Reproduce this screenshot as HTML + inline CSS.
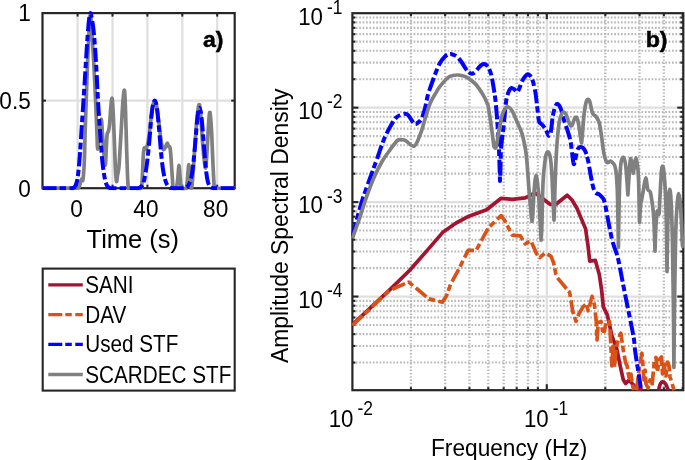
<!DOCTYPE html>
<html><head><meta charset="utf-8"><title>Figure</title>
<style>html,body{margin:0;padding:0;background:#fff}body{width:685px;height:460px;overflow:hidden;font-family:"Liberation Sans",sans-serif}</style></head>
<body>
<svg width="685" height="460" viewBox="0 0 685 460" style="display:block;font-family:'Liberation Sans',sans-serif;will-change:transform;opacity:0.9999">
<rect x="0" y="0" width="685" height="460" fill="#fff"/>
<defs><clipPath id="ca"><rect x="40.5" y="11.1" width="196.2" height="179.1"/></clipPath><clipPath id="cb"><rect x="351.4" y="12.2" width="332.9" height="379.0"/></clipPath></defs>
<line x1="77.60" y1="13.1" x2="77.60" y2="188.2" stroke="#dfdfdf" stroke-width="2.2"/>
<line x1="112.50" y1="13.1" x2="112.50" y2="188.2" stroke="#dfdfdf" stroke-width="2.2"/>
<line x1="147.40" y1="13.1" x2="147.40" y2="188.2" stroke="#dfdfdf" stroke-width="2.2"/>
<line x1="182.30" y1="13.1" x2="182.30" y2="188.2" stroke="#dfdfdf" stroke-width="2.2"/>
<line x1="217.20" y1="13.1" x2="217.20" y2="188.2" stroke="#dfdfdf" stroke-width="2.2"/>
<line x1="42.5" y1="100.65" x2="234.7" y2="100.65" stroke="#dfdfdf" stroke-width="2.2"/>
<rect x="42.5" y="13.1" width="192.20" height="175.10" fill="none" stroke="#262626" stroke-width="2.2"/>
<line x1="77.60" y1="188.2" x2="77.60" y2="184.7" stroke="#262626" stroke-width="2"/>
<line x1="77.60" y1="13.1" x2="77.60" y2="16.6" stroke="#262626" stroke-width="2"/>
<line x1="112.50" y1="188.2" x2="112.50" y2="184.7" stroke="#262626" stroke-width="2"/>
<line x1="112.50" y1="13.1" x2="112.50" y2="16.6" stroke="#262626" stroke-width="2"/>
<line x1="147.40" y1="188.2" x2="147.40" y2="184.7" stroke="#262626" stroke-width="2"/>
<line x1="147.40" y1="13.1" x2="147.40" y2="16.6" stroke="#262626" stroke-width="2"/>
<line x1="182.30" y1="188.2" x2="182.30" y2="184.7" stroke="#262626" stroke-width="2"/>
<line x1="182.30" y1="13.1" x2="182.30" y2="16.6" stroke="#262626" stroke-width="2"/>
<line x1="217.20" y1="188.2" x2="217.20" y2="184.7" stroke="#262626" stroke-width="2"/>
<line x1="217.20" y1="13.1" x2="217.20" y2="16.6" stroke="#262626" stroke-width="2"/>
<line x1="42.5" y1="100.65" x2="46.0" y2="100.65" stroke="#262626" stroke-width="2"/>
<line x1="234.7" y1="100.65" x2="231.2" y2="100.65" stroke="#262626" stroke-width="2"/>
<g clip-path="url(#ca)" fill="none" stroke-linejoin="round">
<path d="M42.50,188.20 C47.08,188.20 64.17,188.20 70.00,188.20 C75.83,188.20 75.92,188.57 77.50,188.20 C79.08,187.83 78.88,187.40 79.50,186.00 C80.12,184.60 80.75,181.03 81.20,179.80 C81.65,178.57 81.90,178.63 82.20,178.60 C82.50,178.57 82.65,182.37 83.00,179.60 C83.35,176.83 83.93,170.27 84.30,162.00 C84.67,153.73 84.85,141.17 85.20,130.00 C85.55,118.83 85.98,106.67 86.40,95.00 C86.82,83.33 87.25,70.83 87.70,60.00 C88.15,49.17 88.65,37.63 89.10,30.00 C89.55,22.37 89.95,14.20 90.40,14.20 C90.85,14.20 91.25,22.03 91.80,30.00 C92.35,37.97 93.13,51.67 93.70,62.00 C94.27,72.33 94.78,83.17 95.20,92.00 C95.62,100.83 95.90,107.83 96.20,115.00 C96.50,122.17 96.75,129.30 97.00,135.00 C97.25,140.70 97.28,149.20 97.70,149.20 C98.12,149.20 98.90,140.02 99.50,135.00 C100.10,129.98 100.80,119.10 101.30,119.10 C101.80,119.10 102.05,129.02 102.50,135.00 C102.95,140.98 103.52,150.00 104.00,155.00 C104.48,160.00 105.03,165.83 105.40,165.00 C105.77,164.17 105.92,155.08 106.20,150.00 C106.48,144.92 106.75,137.58 107.10,134.50 C107.45,131.42 107.90,133.08 108.30,131.50 C108.70,129.92 109.05,129.42 109.50,125.00 C109.95,120.58 110.55,109.40 111.00,105.00 C111.45,100.60 111.82,96.93 112.20,98.60 C112.58,100.27 112.92,107.27 113.30,115.00 C113.68,122.73 114.13,135.83 114.50,145.00 C114.87,154.17 115.17,163.92 115.50,170.00 C115.83,176.08 116.15,180.67 116.50,181.50 C116.85,182.33 117.20,177.35 117.60,175.00 C118.00,172.65 118.50,171.57 118.90,167.40 C119.30,163.23 119.57,157.07 120.00,150.00 C120.43,142.93 121.00,133.33 121.50,125.00 C122.00,116.67 122.50,105.77 123.00,100.00 C123.50,94.23 124.08,88.73 124.50,90.40 C124.92,92.07 125.17,100.90 125.50,110.00 C125.83,119.10 126.17,134.17 126.50,145.00 C126.83,155.83 127.20,167.93 127.50,175.00 C127.80,182.07 128.05,185.20 128.30,187.40 C128.55,189.60 127.88,188.07 129.00,188.20 C130.12,188.33 133.00,188.20 135.00,188.20 C137.00,188.20 139.78,190.07 141.00,188.20 C142.22,186.33 141.92,182.37 142.30,177.00 C142.68,171.63 142.97,160.85 143.30,156.00 C143.63,151.15 143.92,149.10 144.30,147.90 C144.68,146.70 145.15,149.03 145.60,148.80 C146.05,148.57 146.43,148.63 147.00,146.50 C147.57,144.37 148.33,140.58 149.00,136.00 C149.67,131.42 150.33,124.17 151.00,119.00 C151.67,113.83 152.38,108.03 153.00,105.00 C153.62,101.97 154.12,100.80 154.70,100.80 C155.28,100.80 155.87,101.97 156.50,105.00 C157.13,108.03 157.83,113.83 158.50,119.00 C159.17,124.17 159.83,131.17 160.50,136.00 C161.17,140.83 161.83,145.83 162.50,148.00 C163.17,150.17 163.73,149.78 164.50,149.00 C165.27,148.22 166.42,143.72 167.10,143.30 C167.78,142.88 168.08,145.62 168.60,146.50 C169.12,147.38 169.72,145.52 170.20,148.60 C170.68,151.68 171.10,159.43 171.50,165.00 C171.90,170.57 172.28,178.13 172.60,182.00 C172.92,185.87 172.78,187.17 173.40,188.20 C174.02,189.23 175.57,189.90 176.30,188.20 C177.03,186.50 177.35,181.82 177.80,178.00 C178.25,174.18 178.60,165.30 179.00,165.30 C179.40,165.30 179.78,174.18 180.20,178.00 C180.62,181.82 180.52,186.50 181.50,188.20 C182.48,189.90 185.10,189.90 186.10,188.20 C187.10,186.50 187.05,181.93 187.50,178.00 C187.95,174.07 188.38,164.60 188.80,164.60 C189.22,164.60 189.63,174.27 190.00,178.00 C190.37,181.73 190.67,185.67 191.00,187.00 C191.33,188.33 191.60,189.17 192.00,186.00 C192.40,182.83 192.90,174.83 193.40,168.00 C193.90,161.17 194.40,153.33 195.00,145.00 C195.60,136.67 196.33,124.72 197.00,118.00 C197.67,111.28 198.42,105.70 199.00,104.70 C199.58,103.70 200.00,106.95 200.50,112.00 C201.00,117.05 201.45,127.67 202.00,135.00 C202.55,142.33 203.20,150.50 203.80,156.00 C204.40,161.50 205.07,168.67 205.60,168.00 C206.13,167.33 206.52,159.17 207.00,152.00 C207.48,144.83 208.02,131.62 208.50,125.00 C208.98,118.38 209.40,111.47 209.90,112.30 C210.40,113.13 210.98,121.22 211.50,130.00 C212.02,138.78 212.55,155.57 213.00,165.00 C213.45,174.43 213.87,182.73 214.20,186.60 C214.53,190.47 213.20,187.93 215.00,188.20 C216.80,188.47 221.72,188.20 225.00,188.20 C228.28,188.20 233.08,188.20 234.70,188.20" stroke="#808080" stroke-width="3.7"/>
<path d="M42.50,188.20 C45.42,188.20 55.42,188.20 60.00,188.20 C64.58,188.20 67.83,188.23 70.00,188.20 C72.17,188.17 72.17,188.29 73.00,188.00 C73.83,187.71 74.33,187.58 75.00,186.45 C75.67,185.31 76.42,183.82 77.00,181.20 C77.58,178.57 78.00,175.36 78.50,170.69 C79.00,166.02 79.50,159.89 80.00,153.18 C80.50,146.47 81.00,138.00 81.50,130.42 C82.00,122.83 82.50,115.24 83.00,107.65 C83.50,100.07 84.00,92.77 84.50,84.89 C85.00,77.01 85.50,68.26 86.00,60.38 C86.50,52.50 87.00,44.33 87.50,37.61 C88.00,30.90 88.53,24.19 89.00,20.10 C89.47,16.02 89.87,13.54 90.30,13.10 C90.73,12.66 91.10,15.00 91.60,17.48 C92.10,19.96 92.80,23.90 93.30,27.98 C93.80,32.07 94.17,36.59 94.60,41.99 C95.03,47.39 95.48,53.52 95.90,60.38 C96.32,67.24 96.70,75.55 97.10,83.14 C97.50,90.73 97.90,99.19 98.30,105.90 C98.70,112.62 99.10,117.78 99.50,123.41 C99.90,129.05 100.22,133.28 100.70,139.70 C101.18,146.12 101.72,155.46 102.40,161.94 C103.08,168.41 104.02,174.60 104.80,178.57 C105.58,182.54 106.23,184.16 107.10,185.75 C107.97,187.34 108.68,187.69 110.00,188.10 C111.32,188.51 111.67,188.18 115.00,188.20 C118.33,188.22 126.33,188.20 130.00,188.20 C133.67,188.20 135.33,188.30 137.00,188.20 C138.67,188.10 139.08,188.13 140.00,187.60 C140.92,187.07 141.78,186.35 142.50,185.00 C143.22,183.65 143.72,182.00 144.30,179.50 C144.88,177.00 145.48,173.25 146.00,170.00 C146.52,166.75 146.93,163.83 147.40,160.00 C147.87,156.17 148.33,151.83 148.80,147.00 C149.27,142.17 149.78,136.00 150.20,131.00 C150.62,126.00 150.92,120.92 151.30,117.00 C151.68,113.08 152.12,109.92 152.50,107.50 C152.88,105.08 153.23,103.65 153.60,102.50 C153.97,101.35 154.32,100.55 154.70,100.60 C155.08,100.65 155.48,101.15 155.90,102.80 C156.32,104.45 156.75,106.97 157.20,110.50 C157.65,114.03 158.15,119.25 158.60,124.00 C159.05,128.75 159.50,134.33 159.90,139.00 C160.30,143.67 160.62,147.92 161.00,152.00 C161.38,156.08 161.80,160.17 162.20,163.50 C162.60,166.83 162.95,169.45 163.40,172.00 C163.85,174.55 164.38,176.88 164.90,178.80 C165.42,180.72 165.90,182.22 166.50,183.50 C167.10,184.78 167.75,185.75 168.50,186.50 C169.25,187.25 169.92,187.72 171.00,188.00 C172.08,188.28 173.17,188.17 175.00,188.20 C176.83,188.23 180.33,188.27 182.00,188.20 C183.67,188.13 184.07,188.12 185.00,187.80 C185.93,187.48 186.88,187.02 187.60,186.30 C188.32,185.58 188.77,184.63 189.30,183.50 C189.83,182.37 190.30,181.42 190.80,179.50 C191.30,177.58 191.83,175.08 192.30,172.00 C192.77,168.92 193.18,165.00 193.60,161.00 C194.02,157.00 194.40,152.50 194.80,148.00 C195.20,143.50 195.60,138.67 196.00,134.00 C196.40,129.33 196.82,123.75 197.20,120.00 C197.58,116.25 197.92,113.52 198.30,111.50 C198.68,109.48 199.10,107.90 199.50,107.90 C199.90,107.90 200.32,109.48 200.70,111.50 C201.08,113.52 201.42,116.25 201.80,120.00 C202.18,123.75 202.62,129.33 203.00,134.00 C203.38,138.67 203.73,143.50 204.10,148.00 C204.47,152.50 204.80,156.67 205.20,161.00 C205.60,165.33 206.07,170.58 206.50,174.00 C206.93,177.42 207.30,179.53 207.80,181.50 C208.30,183.47 208.80,184.75 209.50,185.80 C210.20,186.85 210.92,187.40 212.00,187.80 C213.08,188.20 213.83,188.13 216.00,188.20 C218.17,188.27 221.88,188.20 225.00,188.20 C228.12,188.20 233.08,188.20 234.70,188.20" stroke="#0000ff" stroke-width="4.0" stroke-dasharray="14 3 6.5 3.5"/>
</g>
<text transform="translate(30.8,21.3) scale(0.92,1)" font-size="24.6" text-anchor="end">1</text>
<text transform="translate(30.8,109.0) scale(0.92,1)" font-size="24.6" text-anchor="end">0.5</text>
<text transform="translate(30.8,196.6) scale(0.92,1)" font-size="24.6" text-anchor="end">0</text>
<text transform="translate(76.6,217.4) scale(0.92,1)" font-size="24.6" text-anchor="middle">0</text>
<text transform="translate(145.9,217.4) scale(0.92,1)" font-size="24.6" text-anchor="middle">40</text>
<text transform="translate(215.7,217.4) scale(0.92,1)" font-size="24.6" text-anchor="middle">80</text>
<text x="86.6" y="248.2" font-size="25.4" textLength="92.3" lengthAdjust="spacingAndGlyphs">Time (s)</text>
<text transform="translate(202.9,47.0) scale(1.05,1)" font-size="22" text-anchor="start" font-weight="bold" stroke="#000" stroke-width="0.45">a)</text>
<rect x="42.7" y="268.6" width="192" height="122" fill="#fff" stroke="#262626" stroke-width="2.1"/>
<line x1="48.3" y1="284.9" x2="82.8" y2="284.9" stroke="#a2142f" stroke-width="3.3"/>
<text transform="translate(85.2,292.9) scale(0.893,1)" font-size="23.2" text-anchor="start">SANI</text>
<line x1="48.3" y1="314.6" x2="82.8" y2="314.6" stroke="#d95319" stroke-width="3.3" stroke-dasharray="14 3 6.5 3.5"/>
<text transform="translate(85.2,322.6) scale(0.893,1)" font-size="23.2" text-anchor="start">DAV</text>
<line x1="48.3" y1="344.4" x2="82.8" y2="344.4" stroke="#0000ff" stroke-width="3.3" stroke-dasharray="14 3 6.5 3.5"/>
<text transform="translate(85.2,352.4) scale(0.893,1)" font-size="23.2" text-anchor="start">Used STF</text>
<line x1="48.3" y1="374.5" x2="82.8" y2="374.5" stroke="#808080" stroke-width="3.3"/>
<text transform="translate(85.2,382.5) scale(0.893,1)" font-size="23.2" text-anchor="start">SCARDEC STF</text>
<g stroke="#b9b9b9" stroke-width="2.3" stroke-dasharray="1.4 1.9"><line x1="410.92" y1="13.2" x2="410.92" y2="390.2"/><line x1="445.15" y1="13.2" x2="445.15" y2="390.2"/><line x1="469.44" y1="13.2" x2="469.44" y2="390.2"/><line x1="488.28" y1="13.2" x2="488.28" y2="390.2"/><line x1="503.67" y1="13.2" x2="503.67" y2="390.2"/><line x1="516.69" y1="13.2" x2="516.69" y2="390.2"/><line x1="527.96" y1="13.2" x2="527.96" y2="390.2"/><line x1="537.90" y1="13.2" x2="537.90" y2="390.2"/><line x1="605.32" y1="13.2" x2="605.32" y2="390.2"/><line x1="639.55" y1="13.2" x2="639.55" y2="390.2"/><line x1="663.84" y1="13.2" x2="663.84" y2="390.2"/><line x1="682.68" y1="13.2" x2="682.68" y2="390.2"/></g>
<g stroke="#b9b9b9" stroke-width="2.1" stroke-dasharray="1.7 1.7"><line x1="352.4" y1="362.57" x2="683.3" y2="362.57"/><line x1="352.4" y1="345.94" x2="683.3" y2="345.94"/><line x1="352.4" y1="334.14" x2="683.3" y2="334.14"/><line x1="352.4" y1="324.98" x2="683.3" y2="324.98"/><line x1="352.4" y1="317.50" x2="683.3" y2="317.50"/><line x1="352.4" y1="311.18" x2="683.3" y2="311.18"/><line x1="352.4" y1="305.70" x2="683.3" y2="305.70"/><line x1="352.4" y1="300.87" x2="683.3" y2="300.87"/><line x1="352.4" y1="268.12" x2="683.3" y2="268.12"/><line x1="352.4" y1="251.49" x2="683.3" y2="251.49"/><line x1="352.4" y1="239.69" x2="683.3" y2="239.69"/><line x1="352.4" y1="230.53" x2="683.3" y2="230.53"/><line x1="352.4" y1="223.05" x2="683.3" y2="223.05"/><line x1="352.4" y1="216.73" x2="683.3" y2="216.73"/><line x1="352.4" y1="211.25" x2="683.3" y2="211.25"/><line x1="352.4" y1="206.42" x2="683.3" y2="206.42"/><line x1="352.4" y1="173.67" x2="683.3" y2="173.67"/><line x1="352.4" y1="157.04" x2="683.3" y2="157.04"/><line x1="352.4" y1="145.24" x2="683.3" y2="145.24"/><line x1="352.4" y1="136.08" x2="683.3" y2="136.08"/><line x1="352.4" y1="128.60" x2="683.3" y2="128.60"/><line x1="352.4" y1="122.28" x2="683.3" y2="122.28"/><line x1="352.4" y1="116.80" x2="683.3" y2="116.80"/><line x1="352.4" y1="111.97" x2="683.3" y2="111.97"/><line x1="352.4" y1="79.22" x2="683.3" y2="79.22"/><line x1="352.4" y1="62.59" x2="683.3" y2="62.59"/><line x1="352.4" y1="50.79" x2="683.3" y2="50.79"/><line x1="352.4" y1="41.63" x2="683.3" y2="41.63"/><line x1="352.4" y1="34.15" x2="683.3" y2="34.15"/><line x1="352.4" y1="27.83" x2="683.3" y2="27.83"/><line x1="352.4" y1="22.35" x2="683.3" y2="22.35"/><line x1="352.4" y1="17.52" x2="683.3" y2="17.52"/></g>
<line x1="352.4" y1="107.65" x2="683.3" y2="107.65" stroke="#dfdfdf" stroke-width="2.2"/>
<line x1="352.4" y1="202.10" x2="683.3" y2="202.10" stroke="#dfdfdf" stroke-width="2.2"/>
<line x1="352.4" y1="296.55" x2="683.3" y2="296.55" stroke="#dfdfdf" stroke-width="2.2"/>
<line x1="546.80" y1="13.2" x2="546.80" y2="390.2" stroke="#dfdfdf" stroke-width="2.2"/>
<rect x="352.4" y="13.2" width="330.90" height="377.00" fill="none" stroke="#262626" stroke-width="2.2"/>
<g stroke="#262626" stroke-width="2.1"><line x1="410.92" y1="390.2" x2="410.92" y2="387.2"/><line x1="410.92" y1="13.2" x2="410.92" y2="16.2"/><line x1="445.15" y1="390.2" x2="445.15" y2="387.2"/><line x1="445.15" y1="13.2" x2="445.15" y2="16.2"/><line x1="469.44" y1="390.2" x2="469.44" y2="387.2"/><line x1="469.44" y1="13.2" x2="469.44" y2="16.2"/><line x1="488.28" y1="390.2" x2="488.28" y2="387.2"/><line x1="488.28" y1="13.2" x2="488.28" y2="16.2"/><line x1="503.67" y1="390.2" x2="503.67" y2="387.2"/><line x1="503.67" y1="13.2" x2="503.67" y2="16.2"/><line x1="516.69" y1="390.2" x2="516.69" y2="387.2"/><line x1="516.69" y1="13.2" x2="516.69" y2="16.2"/><line x1="527.96" y1="390.2" x2="527.96" y2="387.2"/><line x1="527.96" y1="13.2" x2="527.96" y2="16.2"/><line x1="537.90" y1="390.2" x2="537.90" y2="387.2"/><line x1="537.90" y1="13.2" x2="537.90" y2="16.2"/><line x1="546.80" y1="390.2" x2="546.80" y2="384.2"/><line x1="546.80" y1="13.2" x2="546.80" y2="19.2"/><line x1="605.32" y1="390.2" x2="605.32" y2="387.2"/><line x1="605.32" y1="13.2" x2="605.32" y2="16.2"/><line x1="639.55" y1="390.2" x2="639.55" y2="387.2"/><line x1="639.55" y1="13.2" x2="639.55" y2="16.2"/><line x1="663.84" y1="390.2" x2="663.84" y2="387.2"/><line x1="663.84" y1="13.2" x2="663.84" y2="16.2"/><line x1="682.68" y1="390.2" x2="682.68" y2="387.2"/><line x1="682.68" y1="13.2" x2="682.68" y2="16.2"/><line x1="352.4" y1="362.57" x2="355.4" y2="362.57"/><line x1="683.3" y1="362.57" x2="680.3" y2="362.57"/><line x1="352.4" y1="345.94" x2="355.4" y2="345.94"/><line x1="683.3" y1="345.94" x2="680.3" y2="345.94"/><line x1="352.4" y1="334.14" x2="355.4" y2="334.14"/><line x1="683.3" y1="334.14" x2="680.3" y2="334.14"/><line x1="352.4" y1="324.98" x2="355.4" y2="324.98"/><line x1="683.3" y1="324.98" x2="680.3" y2="324.98"/><line x1="352.4" y1="317.50" x2="355.4" y2="317.50"/><line x1="683.3" y1="317.50" x2="680.3" y2="317.50"/><line x1="352.4" y1="311.18" x2="355.4" y2="311.18"/><line x1="683.3" y1="311.18" x2="680.3" y2="311.18"/><line x1="352.4" y1="305.70" x2="355.4" y2="305.70"/><line x1="683.3" y1="305.70" x2="680.3" y2="305.70"/><line x1="352.4" y1="300.87" x2="355.4" y2="300.87"/><line x1="683.3" y1="300.87" x2="680.3" y2="300.87"/><line x1="352.4" y1="296.55" x2="358.4" y2="296.55"/><line x1="683.3" y1="296.55" x2="677.3" y2="296.55"/><line x1="352.4" y1="268.12" x2="355.4" y2="268.12"/><line x1="683.3" y1="268.12" x2="680.3" y2="268.12"/><line x1="352.4" y1="251.49" x2="355.4" y2="251.49"/><line x1="683.3" y1="251.49" x2="680.3" y2="251.49"/><line x1="352.4" y1="239.69" x2="355.4" y2="239.69"/><line x1="683.3" y1="239.69" x2="680.3" y2="239.69"/><line x1="352.4" y1="230.53" x2="355.4" y2="230.53"/><line x1="683.3" y1="230.53" x2="680.3" y2="230.53"/><line x1="352.4" y1="223.05" x2="355.4" y2="223.05"/><line x1="683.3" y1="223.05" x2="680.3" y2="223.05"/><line x1="352.4" y1="216.73" x2="355.4" y2="216.73"/><line x1="683.3" y1="216.73" x2="680.3" y2="216.73"/><line x1="352.4" y1="211.25" x2="355.4" y2="211.25"/><line x1="683.3" y1="211.25" x2="680.3" y2="211.25"/><line x1="352.4" y1="206.42" x2="355.4" y2="206.42"/><line x1="683.3" y1="206.42" x2="680.3" y2="206.42"/><line x1="352.4" y1="202.10" x2="358.4" y2="202.10"/><line x1="683.3" y1="202.10" x2="677.3" y2="202.10"/><line x1="352.4" y1="173.67" x2="355.4" y2="173.67"/><line x1="683.3" y1="173.67" x2="680.3" y2="173.67"/><line x1="352.4" y1="157.04" x2="355.4" y2="157.04"/><line x1="683.3" y1="157.04" x2="680.3" y2="157.04"/><line x1="352.4" y1="145.24" x2="355.4" y2="145.24"/><line x1="683.3" y1="145.24" x2="680.3" y2="145.24"/><line x1="352.4" y1="136.08" x2="355.4" y2="136.08"/><line x1="683.3" y1="136.08" x2="680.3" y2="136.08"/><line x1="352.4" y1="128.60" x2="355.4" y2="128.60"/><line x1="683.3" y1="128.60" x2="680.3" y2="128.60"/><line x1="352.4" y1="122.28" x2="355.4" y2="122.28"/><line x1="683.3" y1="122.28" x2="680.3" y2="122.28"/><line x1="352.4" y1="116.80" x2="355.4" y2="116.80"/><line x1="683.3" y1="116.80" x2="680.3" y2="116.80"/><line x1="352.4" y1="111.97" x2="355.4" y2="111.97"/><line x1="683.3" y1="111.97" x2="680.3" y2="111.97"/><line x1="352.4" y1="107.65" x2="358.4" y2="107.65"/><line x1="683.3" y1="107.65" x2="677.3" y2="107.65"/><line x1="352.4" y1="79.22" x2="355.4" y2="79.22"/><line x1="683.3" y1="79.22" x2="680.3" y2="79.22"/><line x1="352.4" y1="62.59" x2="355.4" y2="62.59"/><line x1="683.3" y1="62.59" x2="680.3" y2="62.59"/><line x1="352.4" y1="50.79" x2="355.4" y2="50.79"/><line x1="683.3" y1="50.79" x2="680.3" y2="50.79"/><line x1="352.4" y1="41.63" x2="355.4" y2="41.63"/><line x1="683.3" y1="41.63" x2="680.3" y2="41.63"/><line x1="352.4" y1="34.15" x2="355.4" y2="34.15"/><line x1="683.3" y1="34.15" x2="680.3" y2="34.15"/><line x1="352.4" y1="27.83" x2="355.4" y2="27.83"/><line x1="683.3" y1="27.83" x2="680.3" y2="27.83"/><line x1="352.4" y1="22.35" x2="355.4" y2="22.35"/><line x1="683.3" y1="22.35" x2="680.3" y2="22.35"/><line x1="352.4" y1="17.52" x2="355.4" y2="17.52"/><line x1="683.3" y1="17.52" x2="680.3" y2="17.52"/></g>
<g clip-path="url(#cb)" fill="none" stroke-linejoin="round" stroke-width="3.7">
<path d="M352.40,324.70 L388.60,290.90 L409.50,270.50 L427.20,250.40 L443.20,231.90 L456.10,223.00 L468.90,216.20 L486.60,209.80 L501.10,198.30 L512.30,199.40 L525.20,197.80 L534.90,193.00 L539.70,196.20 L550.00,204.20 L555.90,204.30 L567.20,195.30 L572.00,200.00 L576.80,208.00 L585.60,228.90 L588.10,246.60 L589.70,261.10 L595.30,260.30 L596.90,265.90 L599.30,274.60 L601.70,290.70 L603.30,306.80 L607.30,314.80 L609.80,326.10 L612.00,336.10 L616.80,348.90 L620.00,365.00 L623.20,379.50 L625.60,383.50 L628.90,380.30 L632.90,384.30 L636.90,388.30 L642.50,390.20" stroke="#a2142f"/>
<path d="M658.60,390.20 C658.87,389.22 659.53,385.68 660.20,384.30 C660.87,382.92 661.67,381.90 662.60,381.90 C663.53,381.90 664.87,382.92 665.80,384.30 C666.73,385.68 667.80,389.22 668.20,390.20" stroke="#a2142f"/>
<path d="M352.40,325.50 L388.60,291.20 L395.00,288.00 L408.70,282.10 L417.50,289.30 L428.80,298.90 L442.40,302.20 L446.50,295.70 L450.50,284.50 L459.30,268.10 L468.10,250.40 L476.20,250.40 L488.20,227.90 L501.10,215.60 L504.30,219.80 L512.30,235.10 L520.40,235.90 L525.20,243.90 L530.80,240.70 L536.50,253.60 L539.70,257.60 L545.30,252.80 L551.10,256.30 L553.50,262.70 L555.90,274.00 L557.50,277.90 L565.50,287.50 L569.60,292.30 L572.80,311.60 L576.00,321.30 L579.20,313.20 L583.20,306.80 L586.40,303.60 L588.10,310.80 L592.10,296.40 L594.50,305.20 L596.30,322.00 L597.00,340.00 L598.30,322.50 L601.00,321.50 L602.60,331.00 L604.40,331.50 L606.00,321.80 L609.60,321.50 L610.80,344.00 L611.80,366.00 L613.20,346.00 L614.60,367.00 L616.00,349.00 L618.40,339.30 L620.80,333.20 L622.40,344.10 L623.60,352.20 L625.60,362.60 L627.20,366.00 L628.00,372.00 L629.70,381.00 L631.00,374.00 L632.30,384.00 L633.70,390.20 M636.50,390.20 L639.30,368.00 L641.90,353.20 L643.00,366.00 L644.00,380.00 L645.00,370.00 L646.00,384.00 L648.00,388.00 L650.00,380.00 L652.00,386.00 L653.50,370.00 L654.50,360.00 L656.00,357.50 L657.50,372.00 L659.00,360.00 L661.50,357.00 L662.50,374.00 L664.00,364.00 L666.00,376.00 L667.50,362.00 L669.00,366.00 L670.00,377.00 L671.00,380.00 L672.50,385.00 L674.00,390.20" stroke="#d95319" stroke-dasharray="14 3 6.5 3.5"/>
<path d="M352.40,236.00 C352.80,234.50 354.00,230.00 354.80,227.00 C355.60,224.00 355.85,222.80 357.20,218.00 C358.55,213.20 360.62,205.25 362.90,198.20 C365.18,191.15 368.50,182.40 370.90,175.70 C373.30,169.00 375.15,164.00 377.30,158.00 C379.45,152.00 381.65,144.90 383.80,139.70 C385.95,134.50 388.07,130.55 390.20,126.80 C392.33,123.05 394.32,119.35 396.60,117.20 C398.88,115.05 402.02,114.28 403.90,113.90 C405.78,113.52 406.17,113.28 407.90,114.90 C409.63,116.52 412.62,122.33 414.30,123.60 C415.98,124.87 416.80,123.30 418.00,122.50 C419.20,121.70 420.37,121.03 421.50,118.80 C422.63,116.57 423.72,113.13 424.80,109.10 C425.88,105.07 426.93,98.62 428.00,94.60 C429.07,90.58 429.87,88.77 431.20,85.00 C432.53,81.23 434.53,75.67 436.00,72.00 C437.47,68.33 438.50,65.58 440.00,63.00 C441.50,60.42 443.37,58.00 445.00,56.50 C446.63,55.00 448.30,54.25 449.80,54.00 C451.30,53.75 452.68,54.45 454.00,55.00 C455.32,55.55 456.45,56.13 457.70,57.30 C458.95,58.47 460.17,60.12 461.50,62.00 C462.83,63.88 464.45,66.85 465.70,68.60 C466.95,70.35 467.92,71.65 469.00,72.50 C470.08,73.35 471.12,73.87 472.20,73.70 C473.28,73.53 474.43,72.48 475.50,71.50 C476.57,70.52 477.60,68.88 478.60,67.80 C479.60,66.72 480.57,65.62 481.50,65.00 C482.43,64.38 483.32,64.02 484.20,64.10 C485.08,64.18 486.00,64.75 486.80,65.50 C487.60,66.25 488.30,67.18 489.00,68.60 C489.70,70.02 490.45,72.13 491.00,74.00 C491.55,75.87 491.80,77.13 492.30,79.80 C492.80,82.47 493.47,86.52 494.00,90.00 C494.53,93.48 494.98,95.85 495.50,100.70 C496.02,105.55 496.57,112.02 497.10,119.10 C497.63,126.18 498.30,135.55 498.70,143.20 C499.10,150.85 499.28,158.70 499.50,165.00 C499.72,171.30 499.92,178.33 500.00,181.00 L500.00,181.00 C500.10,178.33 500.42,170.50 500.60,165.00 C500.78,159.50 500.62,154.30 501.10,148.00 C501.58,141.70 502.70,134.70 503.50,127.20 C504.30,119.70 505.23,108.37 505.90,103.00 C506.57,97.63 506.90,97.17 507.50,95.00 C508.10,92.83 508.83,91.18 509.50,90.00 C510.17,88.82 510.67,87.98 511.50,87.90 C512.33,87.82 513.55,88.83 514.50,89.50 C515.45,90.17 516.37,92.15 517.20,91.90 C518.03,91.65 518.70,89.75 519.50,88.00 C520.30,86.25 521.08,83.32 522.00,81.40 C522.92,79.48 524.07,77.70 525.00,76.50 C525.93,75.30 526.77,74.37 527.60,74.20 C528.43,74.03 529.20,74.57 530.00,75.50 C530.80,76.43 531.68,77.88 532.40,79.80 C533.12,81.72 533.75,84.58 534.30,87.00 C534.85,89.42 535.20,90.82 535.70,94.30 C536.20,97.78 536.77,103.50 537.30,107.90 C537.83,112.30 538.32,118.10 538.90,120.70 C539.48,123.30 540.13,122.70 540.80,123.50 C541.47,124.30 542.20,124.67 542.90,125.50 C543.60,126.33 544.33,127.42 545.00,128.50 C545.67,129.58 546.32,130.83 546.90,132.00 C547.48,133.17 547.93,135.12 548.50,135.50 C549.07,135.88 549.80,135.72 550.30,134.30 C550.80,132.88 551.10,129.95 551.50,127.00 C551.90,124.05 552.10,119.93 552.70,116.60 C553.30,113.27 554.30,109.13 555.10,107.00 C555.90,104.87 556.57,103.53 557.50,103.80 C558.43,104.07 559.63,105.93 560.70,108.60 C561.77,111.27 562.82,116.32 563.90,119.80 C564.98,123.28 566.12,126.02 567.20,129.50 C568.28,132.98 569.60,136.95 570.40,140.70 C571.20,144.45 571.47,148.13 572.00,152.00 C572.53,155.87 573.10,162.48 573.60,163.90 C574.10,165.32 574.60,161.83 575.00,160.50 C575.40,159.17 575.57,157.73 576.00,155.90 C576.43,154.07 576.80,150.97 577.60,149.50 C578.40,148.03 579.60,146.97 580.80,147.10 C582.00,147.23 583.58,148.03 584.80,150.30 C586.02,152.57 587.02,156.02 588.10,160.70 C589.18,165.38 590.23,173.30 591.30,178.40 C592.37,183.50 593.17,188.62 594.50,191.30 C595.83,193.98 597.97,193.43 599.30,194.50 C600.63,195.57 601.70,196.70 602.50,197.70 C603.30,198.70 603.57,198.90 604.10,200.50 C604.63,202.10 605.17,204.70 605.70,207.30 C606.23,209.90 606.22,210.62 607.30,216.10 C608.38,221.58 610.58,233.77 612.20,240.20 C613.82,246.63 615.80,250.57 617.00,254.70 C618.20,258.83 618.07,258.47 619.40,265.00 C620.73,271.53 623.25,285.05 625.00,293.90 C626.75,302.75 628.42,310.58 629.90,318.10 C631.38,325.62 633.00,333.32 633.90,339.00 C634.80,344.68 634.40,345.72 635.30,352.20 C636.20,358.68 638.32,371.57 639.30,377.90 C640.28,384.23 640.88,388.15 641.20,390.20" stroke="#0000ff" stroke-width="4.0" stroke-dasharray="14 3 6.5 3.5"/>
<path d="M352.40,238.30 C353.07,236.42 355.20,230.35 356.40,227.00 C357.60,223.65 357.98,223.00 359.60,218.20 C361.22,213.40 363.68,205.02 366.10,198.20 C368.52,191.38 371.42,183.45 374.10,177.30 C376.78,171.15 379.52,165.92 382.20,161.30 C384.88,156.68 387.67,153.07 390.20,149.60 C392.73,146.13 395.52,142.13 397.40,140.50 C399.28,138.87 400.15,139.80 401.50,139.80 C402.85,139.80 403.37,139.45 405.50,140.50 C407.63,141.55 411.77,147.32 414.30,146.10 C416.83,144.88 418.82,138.02 420.70,133.20 C422.58,128.38 423.98,122.28 425.60,117.20 C427.22,112.12 428.53,107.00 430.40,102.70 C432.27,98.40 435.20,94.13 436.80,91.40 C438.40,88.67 438.13,88.60 440.00,86.30 C441.87,84.00 445.83,79.40 448.00,77.60 C450.17,75.80 451.38,75.93 453.00,75.50 C454.62,75.07 456.12,74.95 457.70,75.00 C459.28,75.05 460.90,75.37 462.50,75.80 C464.10,76.23 465.15,76.25 467.30,77.60 C469.45,78.95 472.98,81.38 475.40,83.90 C477.82,86.42 480.20,90.27 481.80,92.70 C483.40,95.13 484.07,96.62 485.00,98.50 C485.93,100.38 486.87,102.70 487.40,104.00 C487.93,105.30 487.53,102.43 488.20,106.30 C488.87,110.17 490.45,120.52 491.40,127.20 C492.35,133.88 493.48,143.20 493.90,146.40 L493.90,146.40 C494.08,146.67 494.60,148.00 495.00,148.00 C495.40,148.00 495.68,149.07 496.30,146.40 C496.92,143.73 497.77,137.08 498.70,132.00 C499.63,126.92 500.83,119.78 501.90,115.90 C502.97,112.02 504.03,110.17 505.10,108.70 C506.17,107.23 507.10,106.70 508.30,107.10 C509.50,107.50 510.82,108.57 512.30,111.10 C513.78,113.63 515.58,118.55 517.20,122.30 C518.82,126.05 520.67,129.30 522.00,133.60 C523.33,137.90 524.40,143.70 525.20,148.10 C526.00,152.50 526.13,152.65 526.80,160.00 C527.47,167.35 528.47,183.03 529.20,192.20 C529.93,201.37 530.73,210.15 531.20,215.00 C531.67,219.85 531.87,220.25 532.00,221.30 L532.00,221.30 C532.13,220.25 532.47,219.85 532.80,215.00 C533.13,210.15 533.45,198.82 534.00,192.20 C534.55,185.58 535.37,175.30 536.10,175.30 C536.83,175.30 537.70,183.92 538.40,192.20 C539.10,200.48 539.85,217.00 540.30,225.00 C540.75,233.00 540.97,237.67 541.10,240.20 L541.10,240.20 C541.23,237.67 541.58,234.50 541.90,225.00 C542.22,215.50 542.40,194.45 543.00,183.20 C543.60,171.95 544.68,162.72 545.50,157.50 C546.32,152.28 547.10,151.90 547.90,151.90 C548.70,151.90 549.63,153.62 550.30,157.50 C550.97,161.38 551.42,167.28 551.90,175.20 C552.38,183.12 552.85,197.52 553.20,205.00 C553.55,212.48 553.87,217.58 554.00,220.10 L554.00,220.10 C554.10,217.58 554.42,211.15 554.60,205.00 C554.78,198.85 554.75,192.70 555.10,183.20 C555.45,173.70 556.03,158.02 556.70,148.00 C557.37,137.98 558.30,128.73 559.10,123.10 C559.90,117.47 560.70,116.03 561.50,114.20 C562.30,112.37 563.08,111.97 563.90,112.10 C564.72,112.23 565.45,113.03 566.40,115.00 C567.35,116.97 568.67,122.15 569.60,123.90 C570.53,125.65 571.20,126.32 572.00,125.50 C572.80,124.68 573.65,120.35 574.40,119.00 C575.15,117.65 575.83,116.72 576.50,117.40 C577.17,118.08 577.68,119.48 578.40,123.10 C579.12,126.72 580.27,135.78 580.80,139.10 C581.33,142.42 581.47,142.35 581.60,143.00 L581.60,143.00 C581.73,141.55 582.00,138.97 582.40,134.30 C582.80,129.63 583.38,120.35 584.00,115.00 C584.62,109.65 585.42,104.82 586.10,102.20 C586.78,99.58 587.45,99.30 588.10,99.30 C588.75,99.30 589.25,99.85 590.00,102.20 C590.75,104.55 591.58,111.00 592.60,113.40 C593.62,115.80 594.98,114.98 596.10,116.60 C597.22,118.22 598.37,119.62 599.30,123.10 C600.23,126.58 600.97,132.63 601.70,137.50 C602.43,142.37 602.85,148.17 603.70,152.30 C604.55,156.43 605.67,160.85 606.80,162.30 C607.93,163.75 609.55,160.97 610.50,161.00 C611.45,161.03 611.77,161.67 612.50,162.50 C613.23,163.33 614.23,163.75 614.90,166.00 C615.57,168.25 616.05,170.33 616.50,176.00 C616.95,181.67 617.28,188.10 617.60,200.00 C617.92,211.90 618.27,239.50 618.40,247.40 L618.40,247.40 C618.53,239.50 618.95,211.72 619.20,200.00 C619.45,188.28 619.58,183.38 619.90,177.10 C620.22,170.82 620.53,165.60 621.10,162.30 C621.67,159.00 622.58,157.10 623.30,157.30 C624.02,157.50 624.83,160.20 625.40,163.50 C625.97,166.80 626.28,171.87 626.70,177.10 C627.12,182.33 627.70,191.93 627.90,194.90 L627.90,194.90 C628.08,191.92 628.58,182.95 629.00,177.00 C629.42,171.05 629.90,161.37 630.40,159.20 C630.90,157.03 631.52,161.63 632.00,164.00 C632.48,166.37 632.87,173.40 633.30,173.40 C633.73,173.40 634.15,166.58 634.60,164.00 C635.05,161.42 635.55,157.90 636.00,157.90 C636.45,157.90 636.88,160.65 637.30,164.00 C637.72,167.35 638.13,168.27 638.50,178.00 C638.87,187.73 639.33,215.00 639.50,222.40 L639.50,222.40 C639.68,219.50 640.25,208.73 640.60,205.00 C640.95,201.27 641.13,202.50 641.60,200.00 C642.07,197.50 642.72,193.70 643.40,190.00 C644.08,186.30 644.97,177.88 645.70,177.80 C646.43,177.72 647.05,187.17 647.80,189.50 C648.55,191.83 649.48,189.67 650.20,191.80 C650.92,193.93 651.50,197.93 652.10,202.30 C652.70,206.67 653.32,209.87 653.80,218.00 C654.28,226.13 654.80,245.58 655.00,251.10 L655.00,251.10 C655.17,246.75 655.58,231.68 656.00,225.00 C656.42,218.32 657.00,212.83 657.50,211.00 C658.00,209.17 658.62,215.83 659.00,214.00 C659.38,212.17 659.40,207.00 659.80,200.00 C660.20,193.00 660.92,177.67 661.40,172.00 C661.88,166.33 662.28,166.00 662.70,166.00 C663.12,166.00 663.45,167.60 663.90,172.00 C664.35,176.40 664.98,183.57 665.40,192.40 C665.82,201.23 666.13,211.80 666.40,225.00 C666.67,238.20 666.90,263.83 667.00,271.60 L667.00,271.60 C667.13,263.83 667.52,236.93 667.80,225.00 C668.08,213.07 668.38,205.95 668.70,200.00 C669.02,194.05 669.32,189.30 669.70,189.30 C670.08,189.30 670.55,191.55 671.00,200.00 C671.45,208.45 672.02,223.33 672.40,240.00 C672.78,256.67 673.05,278.77 673.30,300.00 C673.55,321.23 673.80,356.17 673.90,367.40 L673.90,367.40 C674.02,356.17 674.28,322.90 674.60,300.00 C674.92,277.10 675.35,246.17 675.80,230.00 C676.25,213.83 676.80,209.07 677.30,203.00 C677.80,196.93 678.30,193.60 678.80,193.60 C679.30,193.60 679.83,197.77 680.30,203.00 C680.77,208.23 681.23,217.83 681.60,225.00 C681.97,232.17 682.22,244.17 682.50,246.00 C682.78,247.83 683.17,237.67 683.30,236.00" stroke="#808080"/>
</g>
<text transform="translate(323.0,24.5) scale(0.905,1)" font-size="24.6" text-anchor="end">10</text><text transform="translate(327.0,13.7) scale(0.9,1)" font-size="19.4" text-anchor="start">-1</text>
<text transform="translate(323.0,119.0) scale(0.905,1)" font-size="24.6" text-anchor="end">10</text><text transform="translate(327.0,108.2) scale(0.9,1)" font-size="19.4" text-anchor="start">-2</text>
<text transform="translate(323.0,213.4) scale(0.905,1)" font-size="24.6" text-anchor="end">10</text><text transform="translate(327.0,202.6) scale(0.9,1)" font-size="19.4" text-anchor="start">-3</text>
<text transform="translate(323.0,307.9) scale(0.905,1)" font-size="24.6" text-anchor="end">10</text><text transform="translate(327.0,297.1) scale(0.9,1)" font-size="19.4" text-anchor="start">-4</text>
<text transform="translate(353.4,426.8) scale(0.905,1)" font-size="24.6" text-anchor="end">10</text><text transform="translate(357.4,414.6) scale(0.9,1)" font-size="19.4" text-anchor="start">-2</text>
<text transform="translate(548.7,426.8) scale(0.905,1)" font-size="24.6" text-anchor="end">10</text><text transform="translate(552.7,414.6) scale(0.9,1)" font-size="19.4" text-anchor="start">-1</text>
<text x="431" y="455.5" font-size="23.9" textLength="156.3" lengthAdjust="spacingAndGlyphs">Frequency (Hz)</text>
<text transform="translate(287.9,363.0) rotate(-90)" font-size="23" textLength="274.5" lengthAdjust="spacingAndGlyphs">Amplitude Spectral Density</text>
<text transform="translate(645.7,47.0) scale(1.05,1)" font-size="22" text-anchor="start" font-weight="bold" stroke="#000" stroke-width="0.45">b)</text>
</svg>
</body></html>
